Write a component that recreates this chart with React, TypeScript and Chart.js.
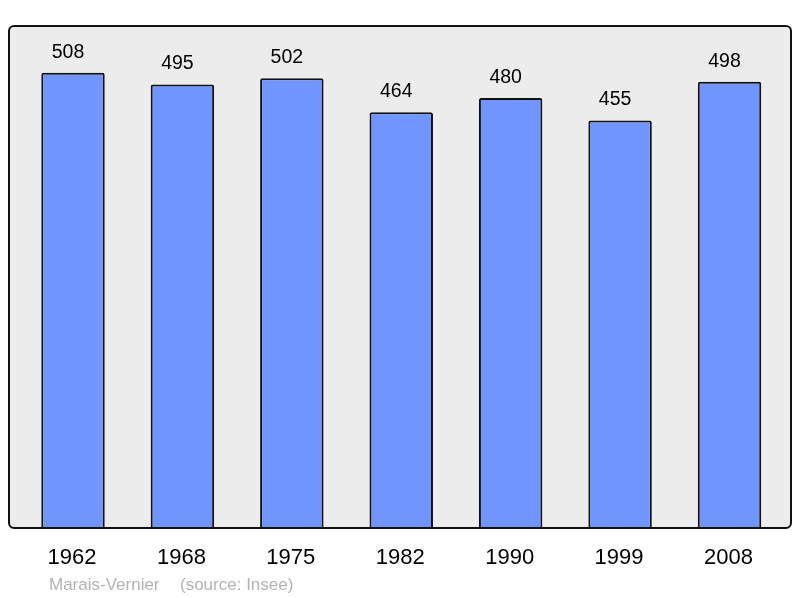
import React, { useEffect, useRef } from "react";
import { Chart, registerables } from "chart.js";

Chart.register(...registerables);

const years = ["1962", "1968", "1975", "1982", "1990", "1999", "2008"];
const population = [508, 495, 502, 464, 480, 455, 498];
const townName = "Marais-Vernier";
const sourceText = "(source: Insee)";

const FONT = "'Liberation Sans', Arial, sans-serif";

const framePlugin = {
  id: "frame",
  beforeDatasetsDraw(chart: any) {
    const ctx = chart.ctx;
    ctx.save();
    ctx.fillStyle = "#ececec";
    ctx.beginPath();
    (ctx as any).roundRect(9, 26, 782, 502, 5);
    ctx.fill();
    ctx.restore();
  },
  afterDatasetsDraw(chart: any) {
    const ctx = chart.ctx;
    const meta = chart.getDatasetMeta(0);
    ctx.save();
    ctx.strokeStyle = "#111";
    ctx.lineWidth = 2;
    ctx.beginPath();
    (ctx as any).roundRect(9, 26, 782, 502, 5);
    ctx.stroke();
    ctx.fillStyle = "#000";
    ctx.textAlign = "center";
    ctx.textBaseline = "middle";
    ctx.font = `19.5px ${FONT}`;
    meta.data.forEach((bar: any, i: number) => {
      ctx.fillText(String(population[i]), bar.x - 5, bar.y - 20.5);
    });
    ctx.font = `22px ${FONT}`;
    const xScale = chart.scales.x;
    years.forEach((y, i) => {
      ctx.fillText(y, xScale.getPixelForValue(i) - 1, 557.5);
    });
    ctx.textAlign = "left";
    ctx.fillStyle = "#b3b3b3";
    ctx.font = `17px ${FONT}`;
    ctx.fillText(townName, 49, 585);
    ctx.fillText(sourceText, 180, 585);
    ctx.restore();
  },
};

export default function App() {
  const ref = useRef<HTMLCanvasElement>(null);
  useEffect(() => {
    document.body.style.margin = "0";
    const chart = new Chart(ref.current!, {
      type: "bar",
      data: {
        labels: years,
        datasets: [
          {
            data: population,
            backgroundColor: "#7095ff",
            borderColor: "#111",
            borderWidth: 2,
            borderRadius: 2,
            borderSkipped: false,
            categoryPercentage: 1,
            barPercentage: 0.58,
          },
        ],
      },
      options: {
        responsive: false,
        animation: false,
        devicePixelRatio: 1,
        layout: { padding: { left: 18.3, right: 800 - 784.2, top: 26, bottom: 70 } },
        scales: {
          x: { display: false, offset: true },
          y: { display: false, min: 2, max: 560 },
        },
        plugins: {
          legend: { display: false },
          tooltip: { enabled: false },
          title: { display: false },
        },
      },
      plugins: [framePlugin],
    });
    return () => chart.destroy();
  }, []);
  return <canvas ref={ref} width={800} height={598} style={{ display: "block" }} />;
}
